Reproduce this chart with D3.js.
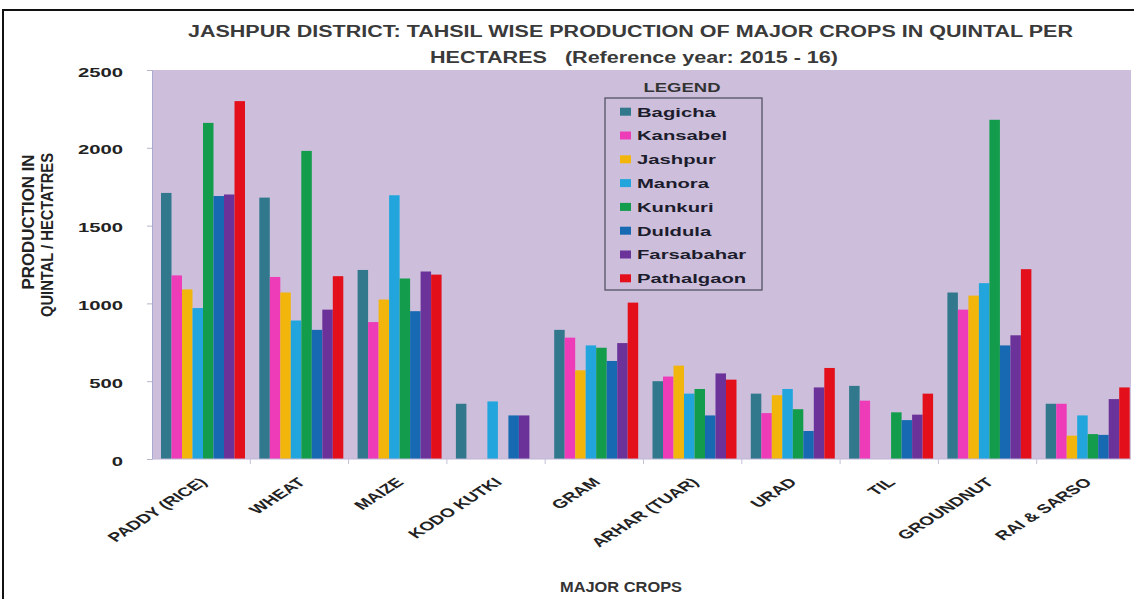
<!DOCTYPE html>
<html><head><meta charset="utf-8">
<script src="https://cdn.jsdelivr.net/npm/d3@7"></script>
<style>
body{margin:0;background:#fff}
svg{display:block}
text{font-family:"Liberation Sans",Arial,sans-serif;font-weight:bold}
</style>
</head><body>
<svg id="c" width="1134" height="599"></svg>
<script>
// ---------- DATA ----------
const crops = ["PADDY (RICE)","WHEAT","MAIZE","KODO KUTKI","GRAM","ARHAR (TUAR)","URAD","TIL","GROUNDNUT","RAI & SARSO"];
const tahsils = ["Bagicha","Kansabel","Jashpur","Manora","Kunkuri","Duldula","Farsabahar","Pathalgaon"];
const bagicha    = [1710,1680,1215,355, 830,500,420,470,1070,355];
const kansabel   = [1180,1170, 880,  0, 780,530,295,375, 960,355];
const jashpur    = [1090,1070,1025,  0, 570,600,410,  0,1050,150];
const manora     = [ 970, 890,1695,370, 730,420,450,  0,1130,280];
const kunkuri    = [2160,1980,1160,  0, 715,450,320,300,2180,160];
const duldula    = [1690, 830, 950,280, 630,280,180,250, 730,155];
const farsabahar = [1700, 960,1205,280, 745,550,460,285, 795,385];
const pathalgaon = [2300,1175,1185,  0,1005,510,585,420,1220,460];
const seriesValues = [bagicha,kansabel,jashpur,manora,kunkuri,duldula,farsabahar,pathalgaon];
const colors = ["#31788c","#ee3cb9","#f2b50c","#21a5dc","#129c4c","#176ab2","#6b3399","#e3101c"];
const yTicks = [0,500,1000,1500,2000,2500];
const titleLines = ["JASHPUR DISTRICT: TAHSIL WISE PRODUCTION OF MAJOR CROPS IN QUINTAL PER","HECTARES   (Reference year: 2015 - 16)"];
const yTitleLines = ["PRODUCTION IN","QUINTAL / HECTATRES"];
const xTitle = "MAJOR CROPS";
const legendTitle = "LEGEND";

// ---------- LAYOUT ----------
const svg = d3.select("#c");
const P = {left:152, right:1131, top:70, bottom:459};
const x0 = d3.scaleBand().domain(crops).range([152,1135]);
const x1 = d3.scaleBand().domain(tahsils).range([9,93]);
const y  = d3.scaleLinear().domain([0,2500]).range([P.bottom,P.top]);
const color = d3.scaleOrdinal().domain(tahsils).range(colors);
const S = 1.5; // horizontal stretch of lettering

function stretch(sel, s){
  sel.each(function(){
    const w=this.getComputedTextLength();
    d3.select(this).attr("textLength", w*s).attr("lengthAdjust","spacingAndGlyphs");
  });
}
function fit(sel, len){ sel.attr("textLength",len).attr("lengthAdjust","spacingAndGlyphs"); }

// outer frame
svg.append("path").attr("d","M3,599 V10 H1134").attr("fill","none")
  .attr("stroke","#111").attr("stroke-width",2);

// plot background
svg.append("rect").attr("x",P.left).attr("y",P.top)
  .attr("width",P.right-P.left).attr("height",P.bottom-P.top).attr("fill","#cdbfdc");

// bars
const rows = [];
tahsils.forEach((t,i)=>crops.forEach((c,j)=>{ if(seriesValues[i][j]>0) rows.push({t,c,v:seriesValues[i][j]}); }));
svg.append("g").selectAll("rect").data(rows).join("rect")
  .attr("x",d=>x0(d.c)+x1(d.t))
  .attr("width",x1.bandwidth())
  .attr("y",d=>y(d.v))
  .attr("height",d=>y(0)-y(d.v))
  .attr("fill",d=>color(d.t));

// y axis
const ya = svg.append("g").attr("transform",`translate(${P.left},0)`)
  .call(d3.axisLeft(y).tickValues(yTicks).tickSize(5).tickPadding(24).tickFormat(d3.format("d")));
ya.select(".domain").attr("stroke","#a9acd0");
ya.selectAll(".tick line").attr("stroke","#b4b4c8");
ya.selectAll(".tick text").attr("font-size",13.5).attr("fill","#222").attr("dy","0.45em")
  .style("font-family",'"Liberation Sans",Arial,sans-serif').style("font-weight","bold");
stretch(ya.selectAll(".tick text"), S);

// x axis line and category ticks
svg.append("line").attr("x1",P.left).attr("x2",P.right).attr("y1",P.bottom).attr("y2",P.bottom)
  .attr("stroke","#bdb6d6");
svg.append("g").selectAll("line").data(crops.slice(1)).join("line")
  .attr("x1",d=>x0(d)).attr("x2",d=>x0(d)).attr("y1",P.bottom).attr("y2",P.bottom+5)
  .attr("stroke","#c4c0d8");

// x labels (rotated, stretched)
svg.append("g").selectAll("text").data(crops).join("text")
  .attr("transform",d=>`translate(${x0(d)+x0.bandwidth()/2+7},483) scale(1.55,1) rotate(-45)`)
  .attr("text-anchor","end").attr("font-size",12.5).attr("fill","#222").text(d=>d);

// x title
svg.append("text").attr("x",621).attr("y",592).attr("text-anchor","middle")
  .attr("font-size",14).attr("fill","#333").text(xTitle).call(fit,122);

// y title
const yt = [{x:33.5,y:222,len:135},{x:52.5,y:235,len:164}];
svg.append("g").selectAll("text").data(yTitleLines).join("text")
  .attr("transform",(d,i)=>`translate(${yt[i].x},${yt[i].y}) scale(1.3,1) rotate(-90)`)
  .attr("text-anchor","middle").attr("font-size",13).attr("fill","#222")
  .text(d=>d).each(function(d,i){ d3.select(this).call(fit, yt[i].len); });

// title
const tl = [{x:630.5,y:37,len:885},{x:634,y:63,len:408}];
svg.append("g").selectAll("text").data(titleLines).join("text")
  .attr("x",(d,i)=>tl[i].x).attr("y",(d,i)=>tl[i].y).attr("text-anchor","middle")
  .attr("font-size",16).attr("fill","#3a3a3a").style("white-space","pre")
  .style("font-family",'"Liberation Sans Narrow","Liberation Sans",Arial,sans-serif')
  .text(d=>d).each(function(d,i){ d3.select(this).call(fit, tl[i].len); });

// legend
svg.append("text").attr("x",682).attr("y",92).attr("text-anchor","middle")
  .attr("font-size",13).attr("fill","#333").text(legendTitle).call(fit,77);
svg.append("rect").attr("x",605).attr("y",98).attr("width",157).attr("height",192)
  .attr("fill","none").attr("stroke","#4a4a5a").attr("stroke-width",1.2);
const lg = svg.append("g").selectAll("g").data(tahsils).join("g")
  .attr("transform",(d,i)=>`translate(620,${111.7+i*23.8})`);
lg.append("rect").attr("x",0).attr("y",-4).attr("width",11).attr("height",8).attr("fill",d=>color(d));
lg.append("text").attr("x",17).attr("dy","0.36em").attr("font-size",13.5).attr("fill","#1c1c2c").text(d=>d)
  .call(stretch,S);
</script>
</body></html>
